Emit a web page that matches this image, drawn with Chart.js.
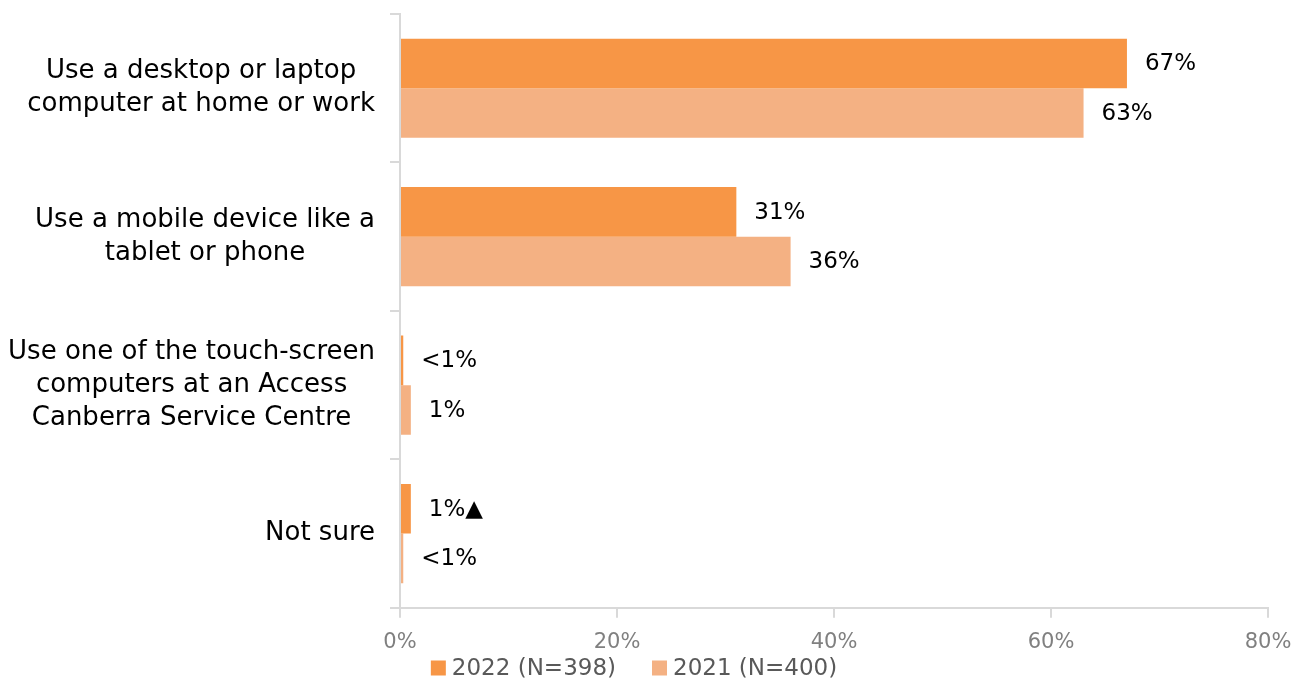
<!DOCTYPE html>
<html>
<head>
<meta charset="utf-8">
<script src="https://cdn.jsdelivr.net/npm/chart.js@4"></script>
<style>
  html, body { margin: 0; padding: 0; background: #ffffff; }
  #wrap { width: 1309px; height: 686px; }
</style>
</head>
<body>
<div id="wrap"><canvas id="grafico" width="1309" height="686"></canvas></div>
<script>
// categorias (cada linha do rótulo em separado)
const categorias = [
  ["Use a desktop or laptop", "computer at home or work"],
  ["Use a mobile device like a", "tablet or phone"],
  ["Use one of the touch-screen", "computers at an Access", "Canberra Service Centre"],
  ["Not sure"]
];

const valores2022 = [67, 31, 0.3, 1];
const valores2021 = [63, 36, 1, 0.3];

// texto mostrado na ponta de cada barra
const rotulos2022 = ["67%", "31%", "<1%", "1%\u25B2"];
const rotulos2021 = ["63%", "36%", "1%", "<1%"];

const ticksX = [0, 20, 40, 60, 80];

const FONTE = "'DejaVu Sans', sans-serif";

// rótulos das categorias: bloco alinhado à direita, linhas centradas entre si
const pluginCategorias = {
  id: "rotulosCategorias",
  afterDraw(chart) {
    const ctx = chart.ctx;
    const y = chart.scales.y;
    const direita = 375;
    const altLinha = 33;
    ctx.save();
    ctx.font = "26px " + FONTE;
    ctx.fillStyle = "#000000";
    ctx.textAlign = "center";
    ctx.textBaseline = "middle";
    categorias.forEach((linhas, i) => {
      const largura = Math.max(...linhas.map(l => ctx.measureText(l).width));
      const cx = direita - largura / 2;
      const cy = y.getPixelForValue(i);
      const topo = cy - (linhas.length - 1) * altLinha / 2;
      linhas.forEach((l, k) => ctx.fillText(l, cx, topo + k * altLinha));
    });
    ctx.restore();
  }
};

// valores escritos depois da ponta das barras
const pluginValores = {
  id: "rotulosValores",
  afterDatasetsDraw(chart) {
    const ctx = chart.ctx;
    const textos = [rotulos2022, rotulos2021];
    ctx.save();
    ctx.font = "23px " + FONTE;
    ctx.fillStyle = "#000000";
    ctx.textAlign = "left";
    ctx.textBaseline = "middle";
    textos.forEach((lista, d) => {
      chart.getDatasetMeta(d).data.forEach((barra, i) => {
        ctx.fillText(lista[i], barra.x + 18, barra.y + 1);
      });
    });
    ctx.restore();
  }
};

// legenda embaixo, desenhada à mão para controlar os espaços
const pluginLegenda = {
  id: "legendaBaixo",
  afterDraw(chart) {
    const ctx = chart.ctx;
    const caixa = 15, folga = 6, entre = 36;
    const centroX = 634, centroY = 668;
    ctx.save();
    ctx.font = "23px " + FONTE;
    ctx.textBaseline = "middle";
    ctx.textAlign = "left";
    const itens = chart.data.datasets.map(ds => ({
      texto: ds.label, cor: ds.backgroundColor, w: ctx.measureText(ds.label).width
    }));
    const total = itens.reduce((s, it) => s + caixa + folga + it.w, 0) + entre * (itens.length - 1);
    let x = centroX - total / 2;
    itens.forEach(it => {
      ctx.fillStyle = it.cor;
      ctx.fillRect(x, centroY - caixa / 2, caixa, caixa);
      ctx.fillStyle = "#595959";
      ctx.fillText(it.texto, x + caixa + folga, centroY + 1);
      x += caixa + folga + it.w + entre;
    });
    ctx.restore();
  }
};

new Chart(document.getElementById("grafico"), {
  type: "bar",
  data: {
    labels: categorias,
    datasets: [
      { label: "2022 (N=398)", data: valores2022, backgroundColor: "#F79646" },
      { label: "2021 (N=400)", data: valores2021, backgroundColor: "#F4B183" }
    ]
  },
  options: {
    indexAxis: "y",
    responsive: false,
    animation: false,
    layout: { padding: { top: 14, right: 41, bottom: 19, left: 0 } },
    datasets: { bar: { categoryPercentage: 0.668, barPercentage: 1.0 } },
    plugins: {
      legend: { display: false },
      tooltip: { enabled: false }
    },
    scales: {
      x: {
        min: 0,
        max: 80,
        afterBuildTicks(scale) {
          scale.ticks = ticksX.map(v => ({ value: v }));
        },
        ticks: {
          color: "#808080",
          font: { family: FONTE, size: 21 },
          padding: 12,
          callback: v => v + "%"
        },
        grid: { drawOnChartArea: false, drawTicks: true, tickLength: 10, color: "#d9d9d9", lineWidth: 2 },
        border: { color: "#d9d9d9", width: 2 }
      },
      y: {
        ticks: { display: false },
        afterFit(scale) { scale.width = 400; },
        grid: { drawOnChartArea: false, drawTicks: true, tickLength: 10, color: "#d9d9d9", lineWidth: 2, offset: true },
        border: { color: "#d9d9d9", width: 2 }
      }
    }
  },
  plugins: [pluginCategorias, pluginValores, pluginLegenda]
});
</script>
</body>
</html>
